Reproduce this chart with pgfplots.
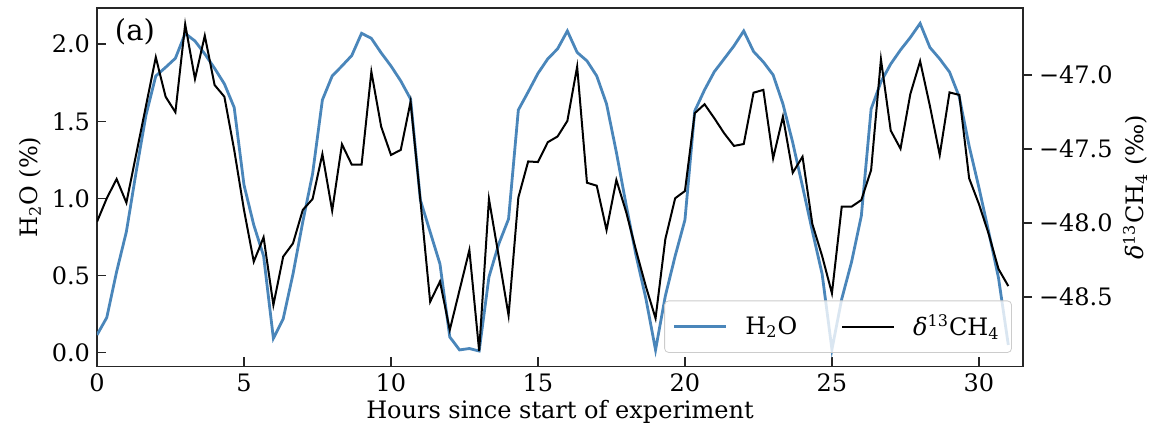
\documentclass[border=0pt]{standalone}
\usepackage{pgfplots}
\pgfplotsset{compat=1.18}
\usepackage{pgfplotstable}
\usepackage{fontspec}
\setmainfont{DejaVu Serif}
\definecolor{h2oblue}{RGB}{74,134,186}

% time (h), water vapour (%), delta 13C of methane (permil)
\pgfplotstableread{
t h2o d13c
0 0.115 -47.993
0.333 0.228 -47.834
0.667 0.525 -47.704
1 0.785 -47.864
1.333 1.174 -47.536
1.667 1.541 -47.208
2 1.794 -46.880
2.333 1.850 -47.147
2.667 1.909 -47.252
3 2.070 -46.657
3.333 2.021 -47.027
3.667 1.937 -46.734
4 1.844 -47.068
4.333 1.743 -47.147
4.667 1.590 -47.507
5 1.088 -47.913
5.333 0.828 -48.263
5.667 0.627 -48.098
6 0.093 -48.556
6.333 0.219 -48.229
6.667 0.510 -48.139
7 0.848 -47.913
7.333 1.159 -47.839
7.667 1.639 -47.535
8 1.794 -47.918
8.333 1.859 -47.469
8.667 1.927 -47.607
9 2.071 -47.607
9.333 2.038 -46.978
9.667 1.944 -47.350
10 1.859 -47.541
10.333 1.762 -47.507
10.667 1.645 -47.181
11 0.990 -47.846
11.333 0.783 -48.534
11.667 0.575 -48.397
12 0.102 -48.725
12.333 0.018 -48.455
12.667 0.027 -48.184
13 0.011 -48.867
13.333 0.491 -47.839
13.667 0.705 -48.229
14 0.867 -48.627
14.333 1.574 -47.829
14.667 1.691 -47.585
15 1.811 -47.589
15.333 1.905 -47.455
15.667 1.970 -47.416
16 2.086 -47.311
16.333 1.947 -46.944
16.667 1.892 -47.729
17 1.794 -47.749
17.333 1.613 -48.049
17.667 1.300 -47.710
18 0.958 -47.927
18.333 0.634 -48.184
18.667 0.355 -48.428
19 0.018 -48.646
19.333 0.368 -48.110
19.667 0.627 -47.834
20 0.861 -47.785
20.333 1.567 -47.259
20.667 1.704 -47.198
21 1.822 -47.293
21.333 1.905 -47.394
21.667 1.989 -47.480
22 2.086 -47.467
22.333 1.953 -47.120
22.667 1.885 -47.101
23 1.801 -47.564
23.333 1.613 -47.282
23.667 1.362 -47.661
24 1.078 -47.553
24.333 0.789 -48.008
24.667 0.510 -48.225
25 0.021 -48.477
25.333 0.348 -47.891
25.667 0.588 -47.891
26 0.887 -47.846
26.333 1.580 -47.643
26.667 1.756 -46.894
27 1.872 -47.376
27.333 1.963 -47.499
27.667 2.044 -47.129
28 2.135 -46.907
28.333 1.979 -47.210
28.667 1.905 -47.541
29 1.820 -47.118
29.333 1.658 -47.135
29.667 1.340 -47.699
30 1.071 -47.873
30.333 0.783 -48.076
30.667 0.484 -48.313
31 0.050 -48.428
}\series

\begin{document}
\begin{tikzpicture}
\pgfplotsset{
  common/.style={
    width=463pt, height=179.25pt, scale only axis,
    xmin=0, xmax=31.5,
    /pgf/number format/assume math mode=true,
    axis line style={line width=0.9pt, black!85},
    tick style={line width=0.8pt, black!85},
    major tick length=4.5pt,
    ticklabel style={font=\fontsize{12}{14}\selectfont},
    label style={font=\fontsize{12}{14}\selectfont},
  },
}
\begin{axis}[common,
  ymin=-0.0895, ymax=2.235,
  xtick={0,5,10,15,20,25,30},
  xticklabels={0,5,10,15,20,25,30},
  ytick={0,0.5,1,1.5,2},
  yticklabels={0.0,0.5,1.0,1.5,2.0},
  xtick pos=bottom, ytick pos=left, tick align=inside,
  xlabel={Hours since start of experiment},
  ylabel={H\textsubscript{2}O (\%)},
  xlabel style={at={(axis description cs:0.5,-0.127)}, anchor=center},
  ylabel style={at={(axis description cs:-0.0724,0.5)}, anchor=center},
]
\addplot[h2oblue, line width=1.4pt] table[x=t, y=h2o] {\series};
\node[anchor=north west, inner sep=0pt, font=\fontsize{14.5}{16}\selectfont]
  at (rel axis cs:0.019,0.972) {(a)};
\coordinate (bl) at (rel axis cs:0,0);
\coordinate (tr) at (rel axis cs:1,1);
\end{axis}
\begin{axis}[common,
  ymin=-48.972, ymax=-46.547,
  hide x axis, axis y line*=right,
  ytick={-48.5,-48,-47.5,-47},
  yticklabels={−48.5,−48.0,−47.5,−47.0},
  tick align=outside,
  ylabel={{\itshape δ}\textsuperscript{13}CH\textsubscript{4} (‰)},
  ylabel style={at={(axis description cs:1.121,0.5)}, anchor=center, rotate=0},
  legend columns=2,
  legend cell align=left,
  legend image code/.code={\draw[#1] (0pt,0pt) -- (26pt,0pt);},
  legend style={at={(0.988,0.038)}, anchor=south east,
    fill=white, fill opacity=0.8, text opacity=1, draw=black!20,
    rounded corners=2pt, font=\fontsize{12}{14}\selectfont,
    inner xsep=4pt, inner ysep=5pt,
    /tikz/every odd column/.append style={column sep=7pt},
    /tikz/every even column/.append style={column sep=20pt}},
]
\addlegendimage{h2oblue, line width=1.4pt}
\addlegendentry{H\textsubscript{2}O}
\addplot[black, line width=1pt] table[x=t, y=d13c] {\series};
\addlegendentry{{\itshape δ}\textsuperscript{13}CH\textsubscript{4}}
\end{axis}
\pgfresetboundingbox
\path ([shift={(-48.5pt,-33.25pt)}]bl) rectangle ([shift={(66pt,4pt)}]tr);
\end{tikzpicture}
\end{document}
